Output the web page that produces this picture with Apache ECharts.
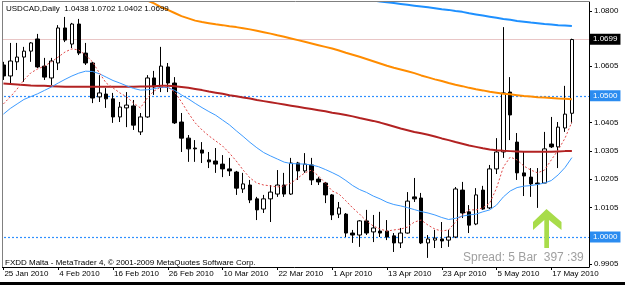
<!DOCTYPE html>
<html><head><meta charset="utf-8">
<script src="https://cdn.jsdelivr.net/npm/echarts@6/dist/echarts.min.js"></script>
<style>html,body{margin:0;padding:0;background:#fff}#c{width:625px;height:285px}</style>
</head><body><div id="c"></div><script>
// ---- data ----
const dates = [
'25 Jan 2010','26 Jan 2010','27 Jan 2010','28 Jan 2010','29 Jan 2010',
'1 Feb 2010','2 Feb 2010','3 Feb 2010','4 Feb 2010','5 Feb 2010',
'8 Feb 2010','9 Feb 2010','10 Feb 2010','11 Feb 2010','12 Feb 2010',
'15 Feb 2010','16 Feb 2010','17 Feb 2010','18 Feb 2010','19 Feb 2010',
'22 Feb 2010','23 Feb 2010','24 Feb 2010','25 Feb 2010','26 Feb 2010',
'1 Mar 2010','2 Mar 2010','3 Mar 2010','4 Mar 2010','5 Mar 2010',
'8 Mar 2010','9 Mar 2010','10 Mar 2010','11 Mar 2010','12 Mar 2010',
'15 Mar 2010','16 Mar 2010','17 Mar 2010','18 Mar 2010','19 Mar 2010',
'22 Mar 2010','23 Mar 2010','24 Mar 2010','25 Mar 2010','26 Mar 2010',
'29 Mar 2010','30 Mar 2010','31 Mar 2010',
'1 Apr 2010','2 Apr 2010','5 Apr 2010','6 Apr 2010','7 Apr 2010','8 Apr 2010','9 Apr 2010',
'12 Apr 2010','13 Apr 2010','14 Apr 2010','15 Apr 2010','16 Apr 2010',
'19 Apr 2010','20 Apr 2010','21 Apr 2010','22 Apr 2010','23 Apr 2010',
'26 Apr 2010','27 Apr 2010','28 Apr 2010','29 Apr 2010','30 Apr 2010',
'3 May 2010','4 May 2010','5 May 2010','6 May 2010','7 May 2010',
'10 May 2010','11 May 2010','12 May 2010','13 May 2010','14 May 2010',
'17 May 2010','18 May 2010','19 May 2010','20 May 2010'
];
const opens = [
1.0609,1.0570,1.0620,1.0637,1.0658,1.0701,1.0605,1.0563,1.0616,1.0740,
1.0683,1.0754,1.0651,1.0616,1.0496,1.0506,1.0489,1.0425,1.0457,1.0464,
1.0372,1.0425,1.0563,1.0531,1.0602,1.0545,1.0407,1.0350,1.0315,1.0308,
1.0273,1.0269,1.0258,1.0241,1.0230,1.0170,1.0184,1.0135,1.0099,1.0135,
1.0152,1.0184,1.0152,1.0262,1.0234,1.0255,1.0205,1.0191,1.0149,1.0081,
1.0081,1.0014,1.0007,1.0057,1.0018,1.0021,1.0021,1.0004,0.9979,1.0014,
1.0142,1.0138,0.9979,0.9989,0.9993,0.9989,1.0000,1.0166,1.0089,1.0046,
1.0166,1.0103,1.0241,1.0301,1.0513,1.0336,1.0227,1.0212,1.0191,1.0191,
1.0329,1.0319,1.0386,1.0438
];
const closes = [
1.0570,1.0623,1.0637,1.0658,1.0687,1.0602,1.0566,1.0623,1.0740,1.0697,
1.0754,1.0651,1.0616,1.0492,1.0510,1.0489,1.0425,1.0460,1.0467,1.0396,
1.0425,1.0563,1.0531,1.0605,1.0545,1.0404,1.0350,1.0312,1.0312,1.0297,
1.0266,1.0258,1.0241,1.0234,1.0173,1.0188,1.0131,1.0096,1.0135,1.0159,
1.0184,1.0152,1.0262,1.0234,1.0258,1.0202,1.0195,1.0149,1.0078,1.0103,
1.0014,1.0007,1.0057,1.0014,1.0032,1.0014,1.0000,0.9979,1.0014,1.0127,
1.0135,0.9979,0.9993,0.9996,0.9986,1.0000,1.0170,1.0085,1.0042,1.0149,
1.0099,1.0241,1.0301,1.0510,1.0432,1.0227,1.0216,1.0188,1.0188,1.0312,
1.0319,1.0389,1.0435,1.0699
];
const lows = [
1.0556,1.0545,1.0591,1.0549,1.0620,1.0598,1.0556,1.0538,1.0591,1.0690,
1.0669,1.0644,1.0609,1.0474,1.0478,1.0457,1.0404,1.0407,1.0389,1.0379,
1.0361,1.0422,1.0503,1.0513,1.0513,1.0400,1.0301,1.0266,1.0266,1.0262,
1.0244,1.0227,1.0212,1.0216,1.0149,1.0156,1.0120,1.0060,1.0085,1.0053,
1.0142,1.0142,1.0149,1.0202,1.0227,1.0184,1.0184,1.0120,1.0060,1.0067,
1.0000,0.9979,0.9965,1.0007,0.9982,1.0000,0.9989,0.9947,0.9961,1.0012,
1.0124,0.9975,0.9926,0.9961,0.9961,0.9965,0.9996,1.0067,1.0014,1.0042,
1.0096,1.0099,1.0223,1.0280,1.0343,1.0202,1.0145,1.0142,1.0103,1.0191,
1.0315,1.0244,1.0372,1.0402
];
const highs = [
1.0620,1.0687,1.0687,1.0673,1.0690,1.0719,1.0634,1.0634,1.0750,1.0779,
1.0758,1.0772,1.0687,1.0620,1.0573,1.0527,1.0510,1.0478,1.0513,1.0485,
1.0439,1.0573,1.0588,1.0673,1.0616,1.0566,1.0439,1.0361,1.0343,1.0336,
1.0301,1.0315,1.0290,1.0280,1.0234,1.0227,1.0202,1.0142,1.0149,1.0184,
1.0237,1.0227,1.0280,1.0266,1.0297,1.0280,1.0212,1.0195,1.0152,1.0124,
1.0085,1.0025,1.0060,1.0096,1.0078,1.0089,1.0060,1.0014,1.0032,1.0159,
1.0209,1.0156,1.0007,1.0025,1.0053,1.0025,1.0177,1.0195,1.0113,1.0173,
1.0181,1.0255,1.0350,1.0743,1.0566,1.0368,1.0301,1.0244,1.0244,1.0372,
1.0425,1.0407,1.0535,1.0702
];
// moving averages (read per bar; null = above the visible window / not drawn)
const maLongBlue = [
null,null,null,null,null,null,null,null,null,null,
null,null,null,null,null,null,null,null,null,null,
null,null,null,null,null,null,null,null,null,null,
null,null,null,null,null,null,null,null,null,null,
null,null,null,null,null,null,null,null,null,null,
null,null,null,null,1.0837,1.0834,1.0831,1.0828,1.0825,1.0822,
1.0819,1.0816,1.0813,1.0810,1.0806,1.0804,1.0800,1.0797,1.0792,1.0788,
1.0784,1.0780,1.0776,1.0772,1.0769,1.0765,1.0762,1.0759,1.0757,1.0754,
1.0752,1.0750,1.0749,1.0747
];
const maOrange = [
null,null,null,null,null,null,null,null,null,null,
null,null,null,null,null,null,null,null,null,null,
1.0846,1.0837,1.0827,1.0814,1.0804,1.0793,1.0782,1.0774,1.0766,1.0761,
1.0757,1.0753,1.0750,1.0746,1.0743,1.0739,1.0735,1.0730,1.0725,1.0720,
1.0714,1.0709,1.0703,1.0697,1.0691,1.0685,1.0679,1.0673,1.0667,1.0660,
1.0652,1.0645,1.0638,1.0630,1.0622,1.0614,1.0606,1.0599,1.0593,1.0587,
1.0580,1.0572,1.0565,1.0558,1.0552,1.0545,1.0539,1.0534,1.0528,1.0523,
1.0519,1.0514,1.0511,1.0507,1.0505,1.0502,1.0499,1.0497,1.0495,1.0494,
1.0492,1.0490,1.0489,1.0488
];
const maRed = [
1.0543,1.0542,1.0540,1.0538,1.0536,1.0535,1.0535,1.0534,1.0533,1.0532,
1.0532,1.0532,1.0532,1.0532,1.0532,1.0532,1.0532,1.0532,1.0532,1.0532,
1.0533,1.0533,1.0534,1.0535,1.0535,1.0534,1.0531,1.0528,1.0524,1.0520,
1.0515,1.0511,1.0507,1.0502,1.0498,1.0494,1.0490,1.0485,1.0481,1.0477,
1.0473,1.0469,1.0465,1.0461,1.0457,1.0453,1.0449,1.0445,1.0440,1.0436,
1.0432,1.0427,1.0421,1.0416,1.0411,1.0405,1.0398,1.0391,1.0384,1.0378,
1.0372,1.0367,1.0362,1.0356,1.0349,1.0343,1.0336,1.0330,1.0324,1.0319,
1.0314,1.0310,1.0307,1.0305,1.0304,1.0303,1.0302,1.0302,1.0302,1.0302,
1.0302,1.0303,1.0304,1.0304
];
const maBlue = [
1.0435,1.0455,1.0471,1.0487,1.0497,1.0507,1.0519,1.0531,1.0545,1.0558,
1.0570,1.0580,1.0587,1.0586,1.0578,1.0566,1.0554,1.0545,1.0535,1.0526,
1.0520,1.0521,1.0525,1.0530,1.0529,1.0519,1.0503,1.0489,1.0473,1.0458,
1.0444,1.0431,1.0414,1.0397,1.0376,1.0356,1.0335,1.0316,1.0299,1.0287,
1.0276,1.0265,1.0260,1.0259,1.0258,1.0255,1.0249,1.0239,1.0228,1.0216,
1.0200,1.0182,1.0168,1.0158,1.0145,1.0135,1.0123,1.0115,1.0110,1.0104,
1.0097,1.0090,1.0085,1.0078,1.0069,1.0062,1.0066,1.0074,1.0078,1.0081,
1.0089,1.0096,1.0113,1.0142,1.0163,1.0175,1.0180,1.0182,1.0186,1.0191,
1.0200,1.0220,1.0246,1.0281
];
const maFast = [
1.0471,1.0496,1.0524,1.0556,1.0581,1.0595,1.0605,1.0620,1.0637,1.0655,
1.0666,1.0662,1.0644,1.0620,1.0581,1.0545,1.0528,1.0510,1.0496,1.0474,
1.0457,1.0492,1.0517,1.0531,1.0531,1.0513,1.0478,1.0439,1.0404,1.0379,
1.0358,1.0340,1.0322,1.0297,1.0269,1.0237,1.0209,1.0191,1.0184,1.0181,
1.0177,1.0181,1.0191,1.0209,1.0227,1.0237,1.0216,1.0191,1.0163,1.0152,
1.0128,1.0103,1.0081,1.0057,1.0039,1.0028,1.0021,1.0025,1.0028,1.0035,
1.0053,1.0060,1.0042,1.0028,1.0021,1.0025,1.0053,1.0078,1.0096,1.0096,
1.0103,1.0120,1.0173,1.0248,1.0283,1.0273,1.0251,1.0237,1.0227,1.0237,
1.0273,1.0308,1.0350,1.0407
];
const priceTicks = [0.9905, 1.0105, 1.0205, 1.0305, 1.0405, 1.0605, 1.0800];
const levelLines = [1.0500, 1.0000];
const bidPrice = 1.0699;
const header = 'USDCAD,Daily  1.0438 1.0702 1.0402 1.0699';
const footer = 'FXDD Malta - MetaTrader 4, \u00a9 2001-2009 MetaQuotes Software Corp.';
const spreadText = 'Spread: 5 Bar  397 :39';

// ---- chart ----
const FONT = 'Tahoma, "Liberation Sans", Arial, sans-serif';
const yMin = 0.98938, yMax = 1.08319;
const cats = dates.concat(['', '']);
const candles = dates.map((d, i) => [opens[i], closes[i], lows[i], highs[i]]);
const chart = echarts.init(document.getElementById('c'), null, {renderer: 'canvas'});

function maSeries(data, color, width, type, z) {
  return {type: 'line', data: data, symbol: 'none', smooth: false, z: z,
    lineStyle: {color: color, width: width, type: type}, silent: true, animation: false};
}
const markData = levelLines.map(v => ({
  yAxis: v,
  lineStyle: {color: '#2f8fff', width: 1.2, type: [2, 2]},
  label: {show: true, position: 'end', distance: 1, formatter: v.toFixed(4), color: '#fff',
    backgroundColor: '#2b8cf0', padding: [2, 3, 1, 3], fontSize: 8, fontFamily: FONT}
}));
markData.push({
  yAxis: bidPrice,
  lineStyle: {color: '#e9c6c6', width: 1, type: 'solid'},
  label: {show: true, position: 'end', distance: 1, formatter: bidPrice.toFixed(4), color: '#fff',
    backgroundColor: '#000', padding: [2, 3, 1, 3], fontSize: 8, fontFamily: FONT}
});

chart.setOption({
  animation: false,
  backgroundColor: '#fff',
  grid: {left: -0.43, top: 2, right: 36, bottom: 18, containLabel: false},
  xAxis: {
    type: 'category', data: cats, boundaryGap: true,
    axisLine: {show: true, lineStyle: {color: '#000', width: 1}},
    axisTick: {show: true, alignWithLabel: true, interval: 7, length: 3, lineStyle: {color: '#000'}},
    axisLabel: {show: true, interval: 7, align: 'left', margin: 3, fontSize: 8, color: '#000',
      fontFamily: FONT, padding: [0, 0, 0, 1]},
    splitLine: {show: false}
  },
  yAxis: {
    type: 'value', position: 'right', min: yMin, max: yMax, scale: true,
    axisLine: {show: true, lineStyle: {color: '#000', width: 1}},
    axisTick: {show: true, length: 3, customValues: priceTicks, lineStyle: {color: '#000'}},
    axisLabel: {show: true, customValues: priceTicks, margin: 5, fontSize: 8, color: '#000',
      fontFamily: FONT, formatter: v => v.toFixed(4)},
    splitLine: {show: false}
  },
  series: [
    {type: 'candlestick', data: candles, barWidth: 4, z: 3,
      itemStyle: {color: '#ffffff', color0: '#000000', borderColor: '#000000', borderColor0: '#000000', borderWidth: 1},
      markLine: {symbol: ['none', 'none'], silent: true, animation: false, z: 1, data: markData}},
    maSeries(maLongBlue, '#1e90ff', 2, 'solid', 4),
    maSeries(maOrange, '#ff8c00', 2, 'solid', 4),
    maSeries(maRed, '#b22222', 2, 'solid', 4),
    maSeries(maBlue, '#3d9bff', 1, 'solid', 4),
    maSeries(maFast, '#e04848', 1, [2, 2], 4)
  ],
  graphic: [
    {type: 'rect', z: 100, shape: {x: 0, y: 0, width: 2, height: 268}, style: {fill: '#fff'}},
    {type: 'line', z: 101, shape: {x1: 2.5, y1: 1, x2: 2.5, y2: 267}, style: {stroke: '#808080', lineWidth: 1}},
    {type: 'line', z: 101, shape: {x1: 2, y1: 1.5, x2: 589, y2: 1.5}, style: {stroke: '#808080', lineWidth: 1}},
    {type: 'rect', z: 101, shape: {x: 0, y: 282, width: 625, height: 3}, style: {fill: '#000'}},
    {type: 'text', z: 102, x: 6, y: 5, style: {text: header, font: '8px ' + FONT, fill: '#000'}},
    {type: 'text', z: 102, x: 5, y: 259, style: {text: footer, font: '8px ' + FONT, fill: '#000'}},
    {type: 'text', z: 102, x: 463, y: 252, style: {text: spreadText, font: '12px ' + FONT, fill: '#a0a0a0'}},
    {type: 'polygon', z: 90, shape: {points: [[546.5, 209], [533, 222], [533, 230], [544.3, 220], [544.3, 248], [549, 248], [549, 220], [561.5, 230], [561.5, 222]]},
      style: {fill: '#a8dc4a'}}
  ]
});
</script></body></html>
